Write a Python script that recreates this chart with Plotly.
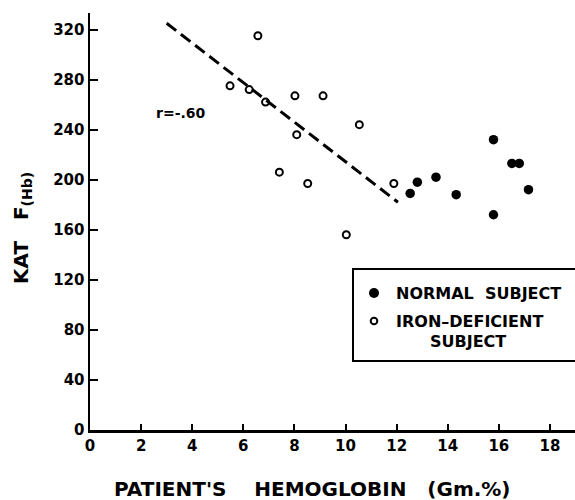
import plotly.graph_objects as go

# ---- data ----
iron_hb = [5.48, 6.23, 6.57, 6.87, 7.41, 8.02, 8.09, 8.52, 9.12, 10.03, 10.54, 11.89]
iron_kat = [275, 272, 315, 262, 206, 267, 236, 197, 267, 156, 244, 197]

normal_hb = [12.53, 12.81, 13.54, 14.33, 15.79, 15.79, 16.51, 16.80, 17.16]
normal_kat = [189, 198, 202, 188, 232, 172, 213, 213, 192]

fit_hb = [3.0, 12.05]
fit_kat = [325, 182]

x_ticks = [0, 2, 4, 6, 8, 10, 12, 14, 16, 18]
y_ticks = [0, 40, 80, 120, 160, 200, 240, 280, 320]

# ---- layout geometry (window pixels) ----
W, H = 575, 500
PL, PR, PT, PB = 90, 575, 13, 430      # plot area
L, T, R, B = PL, PT, W - PR, H - PB
PW, PH = PR - PL, PB - PT


def px(xp):
    return (xp - PL) / PW


def py(yp):
    return (PB - yp) / PH


FONT = "DejaVu Sans"
BLACK = "#000000"

fig = go.Figure()

fig.add_trace(go.Scatter(
    x=fit_hb, y=fit_kat, mode="lines",
    line=dict(color=BLACK, width=3, dash="12px,6px"),
    showlegend=False, hoverinfo="skip"))

fig.add_trace(go.Scatter(
    x=iron_hb, y=iron_kat, mode="markers", name="IRON–DEFICIENT SUBJECT",
    marker=dict(symbol="circle-open", size=7, color=BLACK,
                line=dict(width=2, color=BLACK)),
    showlegend=False))

fig.add_trace(go.Scatter(
    x=normal_hb, y=normal_kat, mode="markers", name="NORMAL SUBJECT",
    marker=dict(symbol="circle", size=9.5, color=BLACK, line=dict(width=0)),
    showlegend=False))

axis_common = dict(
    showgrid=False, zeroline=False, showline=True, linecolor=BLACK,
    linewidth=2.5, ticks="inside", tickwidth=2, tickcolor=BLACK,
    tickfont=dict(family=FONT, size=15, color=BLACK, weight="bold"),
)

fig.update_xaxes(range=[0, 18.98], tickvals=x_ticks,
                 ticktext=[str(v) for v in x_ticks], ticklen=6, **axis_common)
fig.update_yaxes(range=[0, 333.2], tickvals=y_ticks,
                 ticktext=[str(v) for v in y_ticks], ticklen=8, **axis_common)

nb = "\u00a0"
bold = lambda s: dict(family=FONT, size=s, color=BLACK, weight="bold")
annotations = [
    dict(text=f"PATIENT'S{nb*4}HEMOGLOBIN{nb*3}(Gm.%)", x=px(312), y=py(489),
         xref="paper", yref="paper", xanchor="center", yanchor="middle",
         showarrow=False, font=bold(20)),
    dict(text=f"KAT{nb*3}F<sub>(Hb)</sub>", x=px(22), y=py(228),
         xref="paper", yref="paper", xanchor="center", yanchor="middle",
         showarrow=False, textangle=-90, font=bold(20)),
    dict(text="r=-.60", x=2.5, y=253, xref="x", yref="y", xanchor="left",
         yanchor="middle", showarrow=False, font=bold(14)),
    dict(text=f"NORMAL{nb*2}SUBJECT", x=px(394), y=py(293), xref="paper",
         yref="paper", xanchor="left", yanchor="middle", showarrow=False,
         font=bold(16)),
    dict(text="IRON–DEFICIENT", x=px(394), y=py(321), xref="paper",
         yref="paper", xanchor="left", yanchor="middle", showarrow=False,
         font=bold(16)),
    dict(text="SUBJECT", x=px(468), y=py(341), xref="paper",
         yref="paper", xanchor="center", yanchor="middle", showarrow=False,
         font=bold(16)),
]

shapes = [
    dict(type="rect", xref="paper", yref="paper", x0=px(353), x1=px(600),
         y0=py(361), y1=py(269), line=dict(color=BLACK, width=2),
         fillcolor="rgba(0,0,0,0)"),
    dict(type="circle", xref="paper", yref="paper", xsizemode="pixel",
         ysizemode="pixel", xanchor=px(374), yanchor=py(293),
         x0=-5, x1=5, y0=-5, y1=5, fillcolor=BLACK, line=dict(width=0)),
    dict(type="circle", xref="paper", yref="paper", xsizemode="pixel",
         ysizemode="pixel", xanchor=px(374), yanchor=py(321),
         x0=-3.3, x1=3.3, y0=-3.3, y1=3.3, fillcolor="rgba(0,0,0,0)",
         line=dict(color=BLACK, width=2)),
]

fig.update_layout(
    width=W, height=H, margin=dict(l=L, r=R, t=T, b=B),
    paper_bgcolor="white", plot_bgcolor="white",
    annotations=annotations, shapes=shapes, showlegend=False,
    hovermode=False,
)

fig.write_html(
    "out.html",
    config={"displayModeBar": False, "staticPlot": True},
    post_script="document.body.style.margin='0px';"
                "document.body.style.overflow='hidden';",
)
